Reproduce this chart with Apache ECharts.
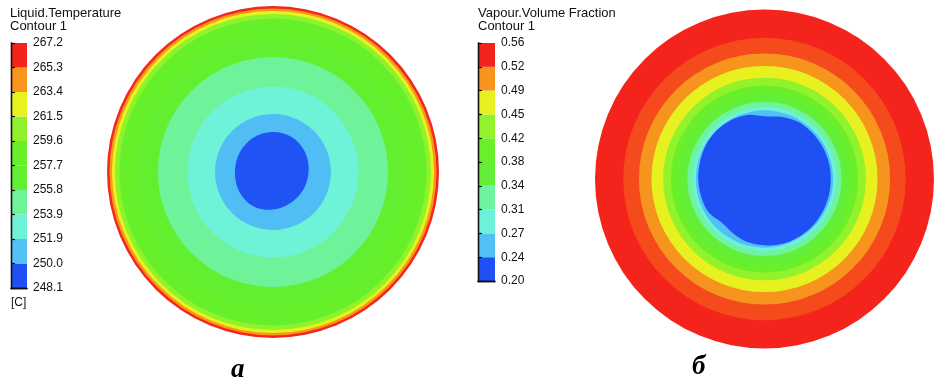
<!DOCTYPE html>
<html>
<head>
<meta charset="utf-8">
<script src="https://cdn.jsdelivr.net/npm/echarts@6/dist/echarts.min.js"></script>
<style>
  html, body { margin: 0; padding: 0; background: #fff; }
  #chart { width: 934px; height: 384px; }
</style>
</head>
<body>
<div id="chart"></div>
<script>
// Contour level boundaries printed on each colour bar (lowest first)
const tempLevels = ['248.1', '250.0', '251.9', '253.9', '255.8', '257.7', '259.6', '261.5', '263.4', '265.3', '267.2'];
const vapourLevels = ['0.20', '0.24', '0.27', '0.31', '0.34', '0.38', '0.42', '0.45', '0.49', '0.52', '0.56'];

// Rainbow band colours, lowest band first
const bandColors = ['#1f50f3', '#52c2f5', '#6ff3d9', '#6ef39c', '#62ef30', '#66f02a', '#8ef22c', '#e6f41f', '#f7961d', '#f4241c'];

// Liquid temperature: outer radius of each filled contour region (fraction of pipe radius) and its value, C
const tempRingRadius = [1.000, 0.985, 0.970, 0.952, 0.925, 0.813, 0.693, 0.515, 0.349];
const tempRingValue  = [266.2, 264.3, 262.4, 260.5, 258.6, 256.7, 254.8, 252.9, 250.9];
// Cold core outline: radius every 30 degrees, counter-clockwise from east
const tempCoreRadius = [0.214, 0.226, 0.238, 0.241, 0.238, 0.232, 0.229, 0.235, 0.238, 0.226, 0.214, 0.211];
const tempCoreValue  = 249.1;

// Vapour volume fraction: outer radius of each filled contour region and its value
const vapourRingRadius = [1.000, 0.833, 0.741, 0.667, 0.598, 0.552, 0.505, 0.455, 0.425, 0.405];
const vapourRingValue  = [0.540, 0.528, 0.505, 0.470, 0.435, 0.400, 0.360, 0.325, 0.290, 0.255];
// Low-vapour core outline: radius every 15 degrees, counter-clockwise from east
const vapourCoreRadius = [0.391, 0.391, 0.389, 0.387, 0.383, 0.370, 0.360, 0.381, 0.391, 0.397, 0.397, 0.393,
                          0.391, 0.387, 0.381, 0.355, 0.364, 0.376, 0.381, 0.387, 0.389, 0.391, 0.391, 0.391];
const vapourCoreValue  = 0.22;

const tempTitle = 'Liquid.Temperature\nContour 1';
const vapourTitle = 'Vapour.Volume Fraction\nContour 1';
const tempUnit = '[C]';
const panelLabels = ['а', 'б'];

const FONT = '"Liberation Sans", Arial, sans-serif';

function bandCenters(levels) {
  const out = [];
  for (let i = 0; i < levels.length - 1; i++) out.push((parseFloat(levels[i]) + parseFloat(levels[i + 1])) / 2);
  return out;
}
const tempCenters = bandCenters(tempLevels);
const vapourCenters = bandCenters(vapourLevels);

// One data row per filled region: [outerRadius, value]; the core row is last
function contourData(radii, values, coreValue) {
  const rows = radii.map((r, i) => [r, values[i]]);
  rows.push([0, coreValue]);
  return rows;
}

// Periodic Catmull-Rom through the core radii, so the outline is a smooth closed curve
function coreRadiusAt(profile, t) {
  const n = profile.length;
  const s = t * n;
  const i = Math.floor(s);
  const f = s - i;
  const p0 = profile[(i - 1 + n) % n], p1 = profile[i % n], p2 = profile[(i + 1) % n], p3 = profile[(i + 2) % n];
  return 0.5 * ((2 * p1) + (-p0 + p2) * f + (2 * p0 - 5 * p1 + 4 * p2 - p3) * f * f + (-p0 + 3 * p1 - 3 * p2 + p3) * f * f * f);
}

function contourRenderer(radii, coreProfile) {
  return function (params, api) {
    const c = api.coord([0, 0]);
    const fill = api.visual('color');
    if (params.dataIndex < radii.length) {
      const r = api.size([api.value(0), 0])[0];
      return { type: 'circle', shape: { cx: c[0], cy: c[1], r: r }, style: { fill: fill } };
    }
    const steps = 144;
    const pts = [];
    for (let k = 0; k < steps; k++) {
      const t = k / steps;
      const r = coreRadiusAt(coreProfile, t);
      const a = t * Math.PI * 2;
      pts.push(api.coord([r * Math.cos(a), r * Math.sin(a)]));
    }
    return { type: 'polygon', shape: { points: pts }, style: { fill: fill } };
  };
}

function barRenderer(params, api) {
  const i = api.value(0);
  const p0 = api.coord([0, i]);
  const p1 = api.coord([1, i + 1]);
  return {
    type: 'rect',
    shape: { x: p0[0], y: p1[1], width: p1[0] - p0[0], height: p0[1] - p1[1] },
    style: { fill: api.visual('color') }
  };
}

const hiddenAxis = { type: 'value', min: -1, max: 1, show: false };

function frameAxes(gridIndex, levels) {
  const line = { show: true, lineStyle: { color: '#111', width: 1.3 } };
  return {
    x: [
      { type: 'value', gridIndex, min: 0, max: 1, position: 'bottom', axisLine: line, axisTick: { show: false }, axisLabel: { show: false }, splitLine: { show: false }, z: 10 },
      { type: 'value', gridIndex, min: 0, max: 1, position: 'top', axisLine: line, axisTick: { show: false }, axisLabel: { show: false }, splitLine: { show: false }, z: 10 }
    ],
    y: [
      { type: 'value', gridIndex, min: 0, max: 10, interval: 1, position: 'right', axisLine: line,
        axisTick: { show: true, length: 4, lineStyle: { color: '#111', width: 1.2 } },
        axisLabel: { show: true, margin: 6, fontSize: 12, fontFamily: FONT, color: '#111', formatter: v => levels[v] },
        splitLine: { show: false }, z: 10 },
      { type: 'value', gridIndex, min: 0, max: 10, position: 'left', axisLine: line, axisTick: { show: false }, axisLabel: { show: false }, splitLine: { show: false }, z: 10 }
    ]
  };
}

const tempFrame = frameAxes(2, tempLevels);
const vapourFrame = frameAxes(3, vapourLevels);

const option = {
  backgroundColor: '#fff',
  animation: false,
  grid: [
    { left: 107, top: 6, width: 332, height: 332 },   // temperature section
    { left: 595, top: 5, width: 348, height: 348 },   // vapour section
    { left: 11, top: 43, width: 16, height: 245 },    // temperature colour bar
    { left: 478, top: 43, width: 17, height: 238 }    // vapour colour bar
  ],
  xAxis: [
    Object.assign({ gridIndex: 0 }, hiddenAxis),
    Object.assign({ gridIndex: 1 }, hiddenAxis),
    ...tempFrame.x, ...vapourFrame.x
  ],
  yAxis: [
    Object.assign({ gridIndex: 0 }, hiddenAxis),
    Object.assign({ gridIndex: 1 }, hiddenAxis),
    ...tempFrame.y, ...vapourFrame.y
  ],
  visualMap: [
    { type: 'continuous', show: false, seriesIndex: [0, 2], dimension: 1,
      min: tempCenters[0], max: tempCenters[tempCenters.length - 1], inRange: { color: bandColors } },
    { type: 'continuous', show: false, seriesIndex: [1, 3], dimension: 1,
      min: vapourCenters[0], max: vapourCenters[vapourCenters.length - 1], inRange: { color: bandColors } }
  ],
  series: [
    { type: 'custom', xAxisIndex: 0, yAxisIndex: 0, renderItem: contourRenderer(tempRingRadius, tempCoreRadius),
      data: contourData(tempRingRadius, tempRingValue, tempCoreValue), silent: true },
    { type: 'custom', xAxisIndex: 1, yAxisIndex: 1, renderItem: contourRenderer(vapourRingRadius, vapourCoreRadius),
      data: contourData(vapourRingRadius, vapourRingValue, vapourCoreValue), silent: true },
    { type: 'custom', xAxisIndex: 2, yAxisIndex: 2, renderItem: barRenderer,
      data: tempCenters.map((v, i) => [i, v]), silent: true },
    { type: 'custom', xAxisIndex: 4, yAxisIndex: 4, renderItem: barRenderer,
      data: vapourCenters.map((v, i) => [i, v]), silent: true }
  ],
  graphic: [
    { type: 'text', left: 10, top: 7, style: { text: tempTitle, font: '13px ' + FONT, lineHeight: 13, fill: '#111' } },
    { type: 'text', left: 478, top: 7, style: { text: vapourTitle, font: '13px ' + FONT, lineHeight: 13, fill: '#111' } },
    { type: 'text', left: 11, top: 297, style: { text: tempUnit, font: '12px ' + FONT, fill: '#111' } },
    { type: 'text', left: 231, top: 357, style: { text: panelLabels[0], font: 'italic bold 27px "Liberation Serif", serif', fill: '#000' } },
    { type: 'text', left: 692, top: 354, style: { text: panelLabels[1], font: 'italic bold 27px "Liberation Serif", serif', fill: '#000' } }
  ]
};

const chart = echarts.init(document.getElementById('chart'), null, { renderer: 'canvas' });
chart.setOption(option);
</script>
</body>
</html>
